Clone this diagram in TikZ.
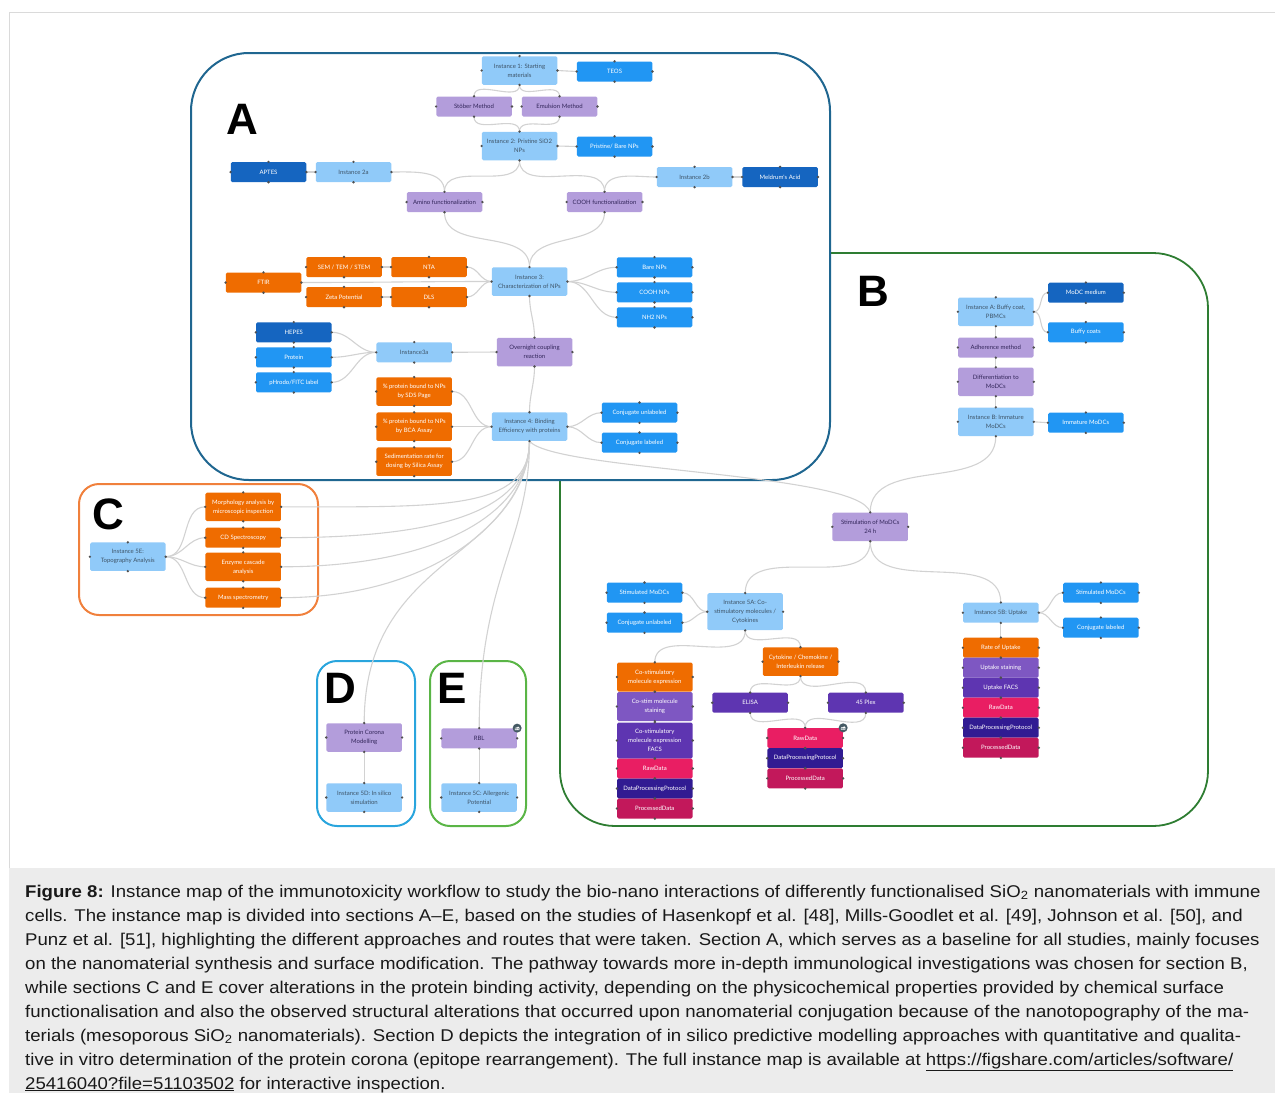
\documentclass[tikz,border=0pt]{standalone}
\usepackage{fontspec}
\usepackage{graphicx}
\setmainfont{Liberation Sans}
\newfontfamily\ndfamily{Lato}
\newcommand\ndfont{\ndfamily\fontsize{6}{9}\selectfont}
\newcommand\bigletterfont{\fontsize{44}{44}\selectfont\bfseries}
\newcommand\capfont{\fontsize{17}{24}\selectfont}
\newcommand\capwide[1]{\scalebox{1.095}[1]{#1}}

% node fills
\definecolor{instc}{HTML}{90CAF9}
\definecolor{insttext}{HTML}{3E5468}
\definecolor{bluec}{HTML}{2196F3}
\definecolor{dbluec}{HTML}{1565C0}
\definecolor{purc}{HTML}{B39DDB}
\definecolor{purtext}{HTML}{33265A}
\definecolor{orac}{HTML}{EF6C00}
\definecolor{mpurc}{HTML}{7E57C2}
\definecolor{dpurc}{HTML}{5E35B1}
\definecolor{rawc}{HTML}{E91E63}
\definecolor{dppc}{HTML}{311B92}
\definecolor{procc}{HTML}{C2185B}
\definecolor{linkc}{HTML}{D2D2D2}
\definecolor{dotc}{HTML}{505050}
\definecolor{iconc}{HTML}{455A64}
% section frames
\definecolor{frameA}{HTML}{1F6690}
\definecolor{frameB}{HTML}{2E7D32}
\definecolor{frameC}{HTML}{F0803C}
\definecolor{frameD}{HTML}{29A5DD}
\definecolor{frameE}{HTML}{5AB546}
\definecolor{capbg}{HTML}{ECECEC}
\definecolor{borderc}{HTML}{DADADA}

\pgfdeclarelayer{frames}
\pgfdeclarelayer{links}
\pgfsetlayers{frames,links,main}

\tikzset{
  nd/.style={rectangle, rounded corners=1.5pt, minimum width=75.5pt,
    minimum height=20pt, inner sep=0pt, align=center, font=\ndfont, text=white},
  tall/.style={minimum height=28.5pt},
  inst/.style={nd, fill=instc, text=insttext},
  blu/.style={nd, fill=bluec},
  dblu/.style={nd, fill=dbluec},
  pur/.style={nd, fill=purc, text=purtext},
  ora/.style={nd, fill=orac},
  mpur/.style={nd, fill=mpurc},
  dpur/.style={nd, fill=dpurc},
  rawd/.style={nd, fill=rawc},
  dpp/.style={nd, fill=dppc},
  procd/.style={nd, fill=procc},
  link/.style={draw=linkc, line width=1.1pt},
  letter/.style={font=\bigletterfont, inner sep=0pt, text=black},
  secframe/.style={line width=2pt},
  capline/.style={anchor=base west, inner sep=0pt, font=\capfont, text=black!90},
  cloudicon/.style={circle, fill=iconc, minimum size=9pt, inner sep=0pt,
    path picture={
      \fill[white, shift={(path picture bounding box.center)}]
        (-2.3pt,-1.9pt) rectangle (2.3pt,-0.3pt)
        (-1.1pt,-0.4pt) circle (1.3pt)
        (0.9pt,0pt) circle (1.6pt);
    }},
}

\begin{document}
\begin{tikzpicture}[x=1pt, y=-1pt]
\useasboundingbox (0,0) rectangle (1275,1093);

% ---------------- Section A ----------------
\node[inst, tall] (inst1) at (519.5,70.5) {Instance 1: Starting\\materials};
\node[blu] (teos) at (614.5,71.5) {TEOS};
\node[pur] (stober) at (474,106.5) {Stöber Method};
\node[pur] (emuls) at (559.5,106.5) {Emulsion Method};
\node[inst, tall] (inst2) at (519.5,146) {Instance 2: Pristine SiO2\\NPs};
\node[blu] (pristine) at (614.5,146.5) {Pristine/ Bare NPs};
\node[dblu] (aptes) at (268.5,172) {APTES};
\node[inst] (inst2a) at (353.5,172) {Instance 2a};
\node[inst] (inst2b) at (694.5,177) {Instance 2b};
\node[dblu] (meldrum) at (780,177) {Meldrum's Acid};
\node[pur] (amino) at (444.5,202) {Amino functionalization};
\node[pur] (coohf) at (604.5,202) {COOH functionalization};
\node[ora] (ftir) at (263.5,282.5) {FTIR};
\node[ora] (sem) at (344,267) {SEM / TEM / STEM};
\node[ora] (nta) at (429,267) {NTA};
\node[ora] (zeta) at (344,297) {Zeta Potential};
\node[ora] (dls) at (429,297) {DLS};
\node[inst, tall] (inst3) at (529.5,281.5) {Instance 3:\\Characterization of NPs};
\node[blu] (bare) at (654.5,267.3) {Bare NPs};
\node[blu] (coohnp) at (654.5,292.3) {COOH NPs};
\node[blu] (nhnp) at (654.5,317.3) {NH2 NPs};
\node[dblu] (hepes) at (293.8,332.3) {HEPES};
\node[blu] (protein) at (293.8,357.3) {Protein};
\node[blu] (phrodo) at (293.8,382.3) {pHrodo/FITC label};
\node[inst] (inst3a) at (414.2,352.3) {Instance3a};
\node[pur, tall] (overnight) at (534.5,352) {Overnight coupling\\reaction};
\node[ora, tall] (sds) at (414.2,391.5) {\% protein bound to NPs\\by SDS Page};
\node[ora, tall] (bca) at (414.2,426.7) {\% protein bound to NPs\\by BCA Assay};
\node[ora, tall] (sedim) at (414.2,461.7) {Sedimentation rate for\\dosing by Silica Assay};
\node[inst, tall] (inst4) at (529.5,426.7) {Instance 4: Binding\\Efficiency with proteins};
\node[blu] (conju) at (639.5,412.7) {Conjugate unlabeled};
\node[blu] (conjl) at (639.5,442.7) {Conjugate labeled};

% ---------------- Section B ----------------
\node[inst, tall] (instA) at (995.8,311.8) {Instance A: Buffy coat,\\PBMCs};
\node[dblu] (modcmed) at (1085.8,292.7) {MoDC medium};
\node[blu] (buffy) at (1085.8,332.3) {Buffy coats};
\node[pur] (adher) at (995.8,347.5) {Adherence method};
\node[pur, tall] (diffmo) at (995.8,381.8) {Differentiation to\\MoDCs};
\node[inst, tall] (instB) at (995.8,421.8) {Instance B: Immature\\MoDCs};
\node[blu] (immat) at (1085.8,422.7) {Immature MoDCs};
\node[pur, tall] (stim) at (870.2,526.8) {Stimulation of MoDCs\\24 h};
\node[blu] (stimL) at (644.5,592.7) {Stimulated MoDCs};
\node[blu] (conjuB) at (644.5,622.7) {Conjugate unlabeled};
\node[inst, minimum height=37pt] (inst5A) at (745.2,611.7) {Instance 5A: Co-\\stimulatory molecules /\\Cytokines};
\node[ora, minimum height=29pt] (costim) at (654.8,677) {Co-stimulatory\\molecule expression};
\node[mpur, minimum height=29pt] (costain) at (654.8,706.5) {Co-stim molecule\\staining};
\node[dpur, minimum height=36pt] (cofacs) at (654.8,740.5) {Co-stimulatory\\molecule expression\\FACS};
\node[rawd] (raw1) at (654.8,768.5) {RawData};
\node[dpp] (dpp1) at (654.8,788.5) {DataProcessingProtocol};
\node[procd] (proc1) at (654.8,808.5) {ProcessedData};
\node[ora, tall] (cyto) at (800.5,661.7) {Cytokine / Chemokine /\\Interleukin release};
\node[dpur] (elisa) at (750.2,702.7) {ELISA};
\node[dpur] (plex) at (865.8,702.7) {45 Plex};
\node[rawd] (raw2) at (805.2,738) {RawData};
\node[dpp] (dpp2) at (805.2,758.2) {DataProcessingProtocol};
\node[procd] (proc2) at (805.2,778.4) {ProcessedData};
\node[blu] (stimR) at (1100.8,592.7) {Stimulated MoDCs};
\node[blu] (conjlB) at (1100.8,627.7) {Conjugate labeled};
\node[inst] (inst5B) at (1000.8,612.7) {Instance 5B: Uptake};
\node[ora] (rate) at (1000.8,647.7) {Rate of Uptake};
\node[mpur] (upstain) at (1000.8,667.7) {Uptake staining};
\node[dpur] (upfacs) at (1000.8,687.7) {Uptake FACS};
\node[rawd] (raw3) at (1000.8,707.7) {RawData};
\node[dpp] (dpp3) at (1000.8,727.7) {DataProcessingProtocol};
\node[procd] (proc3) at (1000.8,747.7) {ProcessedData};

% ---------------- Section C ----------------
\node[inst, tall] (inst5E) at (127.8,556.7) {Instance 5E:\\Topography Analysis};
\node[ora, tall] (morph) at (243.2,506.8) {Morphology analysis by\\microscopic inspection};
\node[ora] (cdspec) at (243.2,537.7) {CD Spectroscopy};
\node[ora, tall] (enzyme) at (243.2,566.8) {Enzyme cascade\\analysis};
\node[ora] (massspec) at (243.2,597.7) {Mass spectrometry};

% ---------------- Sections D and E ----------------
\node[pur, tall] (corona) at (364.2,737.5) {Protein Corona\\Modelling};
\node[inst, tall] (inst5D) at (364.2,797.5) {Instance 5D: In silico\\simulation};
\node[pur] (rbl) at (479.2,738.3) {RBL};
\node[inst, tall] (inst5C) at (479.2,797.5) {Instance 5C: Allergenic\\Potential};

% connection handles on every box
\foreach \n in {inst1,teos,stober,emuls,inst2,pristine,aptes,inst2a,inst2b,meldrum,
  amino,coohf,ftir,sem,nta,zeta,dls,inst3,bare,coohnp,nhnp,hepes,protein,phrodo,
  inst3a,overnight,sds,bca,sedim,inst4,conju,conjl,instA,modcmed,buffy,adher,diffmo,
  instB,immat,stim,stimL,conjuB,inst5A,costim,costain,cofacs,raw1,dpp1,proc1,cyto,
  elisa,plex,raw2,dpp2,proc2,stimR,conjlB,inst5B,rate,upstain,upfacs,raw3,dpp3,proc3,
  inst5E,morph,cdspec,enzyme,massspec,corona,inst5D,rbl,inst5C}{
  \foreach \a in {north,south,east,west}{
    \fill[dotc] (\n.\a) circle (1.3pt);
  }
}

% dataset markers
\node[cloudicon] (icon1) at (raw2.north east) {};
\node[cloudicon] (icon2) at (rbl.north east) {};

% section letters
\node[letter] (labA) at (242,119.5) {A};
\node[letter] (labB) at (873,291) {B};
\node[letter] (labC) at (108,514) {C};
\node[letter] (labD) at (340,688) {D};
\node[letter] (labE) at (452.5,688) {E};

% ---------------- connectors ----------------
\begin{pgfonlayer}{links}
\draw[link] (inst1.south) to[out=-90,in=90] (stober.north);
\draw[link] (inst1.south) to[out=-90,in=90] (emuls.north);
\draw[link] (stober.south) to[out=-90,in=90] (inst2.north);
\draw[link] (emuls.south) to[out=-90,in=90] (inst2.north);
\draw[link] (teos.west) -- (inst1.east);
\draw[link] (pristine.west) -- (inst2.east);
\draw[link] (aptes.east) -- (inst2a.west);
\draw[link] (meldrum.west) -- (inst2b.east);
\draw[link] (inst2a.east) to[out=0,in=90] (amino.north);
\draw[link] (inst2b.west) to[out=180,in=90] (coohf.north);
\draw[link] (inst2.south) to[out=-90,in=90] (amino.north);
\draw[link] (inst2.south) to[out=-90,in=90] (coohf.north);
\draw[link] (amino.south) to[out=-90,in=90] (inst3.north);
\draw[link] (coohf.south) to[out=-90,in=90] (inst3.north);
\draw[link] (ftir.east) to[out=0,in=180] (inst3.west);
\draw[link] (sem.east) -- (nta.west);
\draw[link] (zeta.east) -- (dls.west);
\draw[link] (nta.east) to[out=0,in=180] (inst3.west);
\draw[link] (dls.east) to[out=0,in=180] (inst3.west);
\foreach \t in {bare,coohnp,nhnp} \draw[link] (inst3.east) to[out=0,in=180] (\t.west);
\draw[link] (inst3.south) to[out=-90,in=90] (overnight.north);
\foreach \s in {hepes,protein,phrodo} \draw[link] (\s.east) to[out=0,in=180] (inst3a.west);
\draw[link] (inst3a.east) -- (overnight.west);
\draw[link] (overnight.south) to[out=-90,in=90] (inst4.north);
\foreach \s in {sds,bca,sedim} \draw[link] (\s.east) to[out=0,in=180] (inst4.west);
\foreach \t in {conju,conjl} \draw[link] (inst4.east) to[out=0,in=180] (\t.west);
% routes leaving section A
\foreach \t in {morph,cdspec,enzyme,massspec}
  \draw[link] (inst4.south) .. controls +(0,70) and +(160,0) .. (\t.east);
\draw[link] (inst4.south) .. controls +(-5,120) and +(0,-170) .. (corona.north);
\draw[link] (inst4.south) .. controls +(0,100) and +(0,-150) .. (rbl.north);
\draw[link] (inst4.south) .. controls +(25,30) and +(-10,-40) .. (stim.north);
% section C
\foreach \t in {morph,cdspec,enzyme,massspec} \draw[link] (inst5E.east) to[out=0,in=180] (\t.west);
% sections D and E
\draw[link] (corona.south) -- (inst5D.north);
\draw[link] (rbl.south) -- (inst5C.north);
% section B
\foreach \t in {modcmed,buffy} \draw[link] (instA.east) to[out=0,in=180] (\t.west);
\draw[link] (instA.south) -- (adher.north);
\draw[link] (adher.south) -- (diffmo.north);
\draw[link] (diffmo.south) -- (instB.north);
\draw[link] (immat.west) -- (instB.east);
\draw[link] (instB.south) to[out=-90,in=90] (stim.north);
\draw[link] (stim.south) to[out=-90,in=90] (inst5A.north);
\draw[link] (stim.south) to[out=-90,in=90] (inst5B.north);
\foreach \s in {stimL,conjuB} \draw[link] (\s.east) to[out=0,in=180] (inst5A.west);
\draw[link] (inst5A.south) to[out=-90,in=90] (costim.north);
\draw[link] (inst5A.south) to[out=-90,in=90] (cyto.north);
\foreach \t in {elisa,plex} \draw[link] (cyto.south) to[out=-90,in=90] (\t.north);
\foreach \s in {elisa,plex} \draw[link] (\s.south) to[out=-90,in=90] (raw2.north);
\foreach \t in {stimR,conjlB} \draw[link] (inst5B.east) to[out=0,in=180] (\t.west);
\draw[link] (inst5B.south) -- (rate.north);
\end{pgfonlayer}

% ---------------- frames and caption panel ----------------
\begin{pgfonlayer}{frames}
\fill[capbg] (9,868) rectangle (1275,1093);
\draw[borderc, line width=1pt] (9,868) -- (9,12) -- (1275,12);
\draw[secframe, frameB, line width=1.8pt, rounded corners=55pt] (560,253) rectangle (1208,826);
\draw[secframe, frameA, fill=white, rounded corners=58pt] (191,53) rectangle (830,480);
\draw[secframe, frameC, rounded corners=20pt] (79,484) rectangle (318,615);
\draw[secframe, frameD, rounded corners=20pt] (317,661) rectangle (415,826);
\draw[secframe, frameE, rounded corners=20pt] (430,661) rectangle (526,826);
\end{pgfonlayer}

% ---------------- caption ----------------
\node[capline] (cap1) at (25,897) {\capwide{\textbf{Figure 8:} Instance map of the immunotoxicity workflow to study the bio-nano interactions of differently functionalised SiO\textsubscript{2} nanomaterials with immune}};
\node[capline] (cap2) at (25,921) {\capwide{cells. The instance map is divided into sections A–E, based on the studies of Hasenkopf et al. [48], Mills-Goodlet et al. [49], Johnson et al. [50], and}};
\node[capline] (cap3) at (25,945) {\capwide{Punz et al. [51], highlighting the different approaches and routes that were taken. Section A, which serves as a baseline for all studies, mainly focuses}};
\node[capline] (cap4) at (25,969) {\capwide{on the nanomaterial synthesis and surface modification. The pathway towards more in-depth immunological investigations was chosen for section B,}};
\node[capline] (cap5) at (25,993) {\capwide{while sections C and E cover alterations in the protein binding activity, depending on the physicochemical properties provided by chemical surface}};
\node[capline] (cap6) at (25,1017) {\capwide{functionalisation and also the observed structural alterations that occurred upon nanomaterial conjugation because of the nanotopography of the ma-}};
\node[capline] (cap7) at (25,1041) {\capwide{terials (mesoporous SiO\textsubscript{2} nanomaterials). Section D depicts the integration of in silico predictive modelling approaches with quantitative and qualita-}};
\node[capline] (cap8) at (25,1065) {\capwide{tive in vitro determination of the protein corona (epitope rearrangement). The full instance map is available at \underline{https://figshare.com/articles/software/}}};
\node[capline] (cap9) at (25,1089) {\capwide{\underline{25416040?file=51103502} for interactive inspection.}};
\end{tikzpicture}
\end{document}
